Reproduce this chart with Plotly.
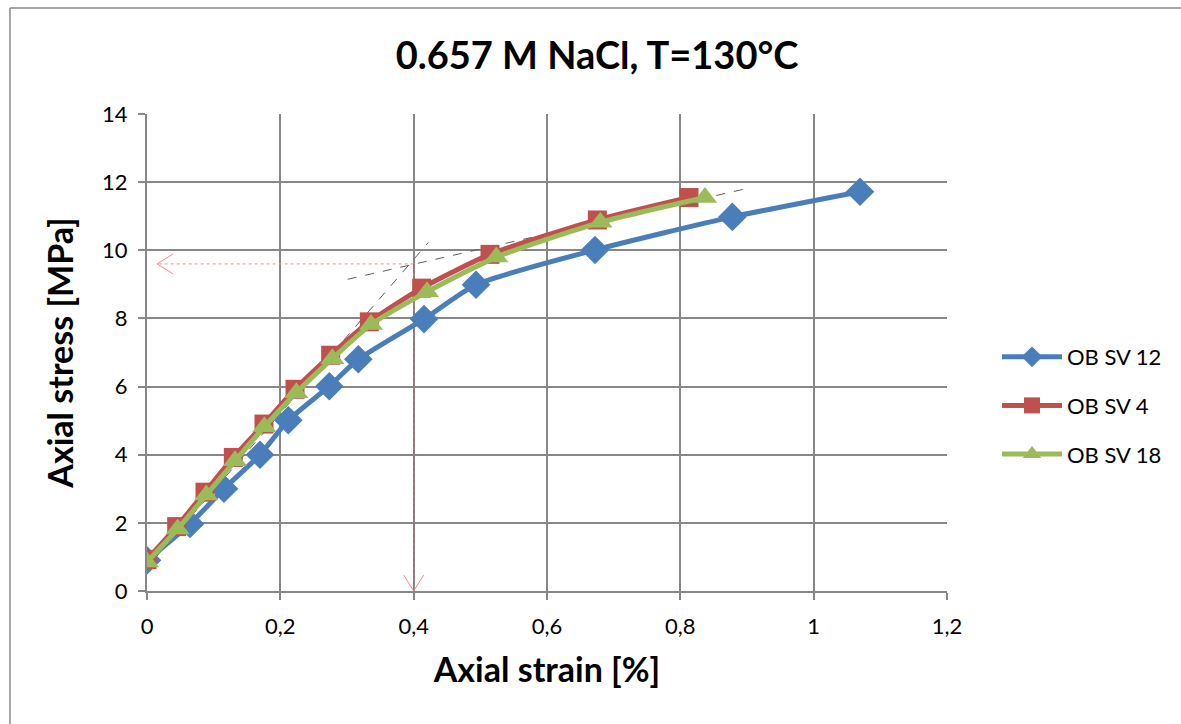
import plotly.graph_objects as go

# ---- data ----
sv12_strain = [0.0, 0.0645, 0.1155, 0.1695, 0.212, 0.2735, 0.317, 0.4155, 0.4935, 0.672, 0.878, 1.0695]
sv12_stress = [0.9, 1.97, 3.0, 4.0, 5.01, 6.01, 6.8, 7.98, 8.99, 10.01, 10.98, 11.72]

sv4_strain = [0.0, 0.0445, 0.087, 0.1295, 0.1755, 0.222, 0.2755, 0.3335, 0.412, 0.5145, 0.6755, 0.813]
sv4_stress = [0.92, 1.89, 2.9, 3.92, 4.9, 5.92, 6.92, 7.9, 8.89, 9.88, 10.89, 11.55]

sv18_strain = [0.0, 0.046, 0.089, 0.132, 0.176, 0.224, 0.278, 0.336, 0.42, 0.524, 0.68, 0.837]
sv18_stress = [0.85, 1.82, 2.82, 3.82, 4.82, 5.82, 6.82, 7.82, 8.78, 9.8, 10.82, 11.55]

tangent1_x = [-0.023, 0.422]
tangent1_y = [0.17, 10.23]
tangent2_x = [0.301, 0.9035]
tangent2_y = [9.15, 11.83]

yield_strain = 0.4
yield_stress = 9.6
arrow_left_end = 0.015

x_ticks = [0, 0.2, 0.4, 0.6, 0.8, 1.0, 1.2]
x_tick_labels = ["0", "0,2", "0,4", "0,6", "0,8", "1", "1,2"]
y_ticks = [0, 2, 4, 6, 8, 10, 12, 14]

FONT = "Lato, 'Open Sans', 'DejaVu Sans', sans-serif"

fig = go.Figure()

# helper lines (behind)
fig.add_trace(go.Scatter(x=tangent1_x, y=tangent1_y, mode="lines",
                         line=dict(color="#5e5e5e", width=1, dash="dash"),
                         showlegend=False, hoverinfo="skip"))
fig.add_trace(go.Scatter(x=tangent2_x, y=tangent2_y, mode="lines",
                         line=dict(color="#5e5e5e", width=1, dash="dash"),
                         showlegend=False, hoverinfo="skip"))
# horizontal arrow to the y axis
fig.add_trace(go.Scatter(x=[yield_strain, arrow_left_end], y=[yield_stress, yield_stress], mode="lines",
                         line=dict(color="#ff8a8a", width=1, dash="dot"),
                         showlegend=False, hoverinfo="skip"))
ahx, ahy = 0.024, 0.29
fig.add_trace(go.Scatter(x=[arrow_left_end + ahx, arrow_left_end, arrow_left_end + ahx],
                         y=[yield_stress + ahy, yield_stress, yield_stress - ahy], mode="lines",
                         line=dict(color="#ff8a8a", width=1),
                         showlegend=False, hoverinfo="skip"))
# vertical arrow to the x axis
fig.add_trace(go.Scatter(x=[yield_strain, yield_strain], y=[yield_stress, 0], mode="lines",
                         line=dict(color="#e04a4a", width=1, dash="dot"),
                         showlegend=False, hoverinfo="skip"))
avx, avy = 0.015, 0.47
fig.add_trace(go.Scatter(x=[yield_strain - avx, yield_strain, yield_strain + avx],
                         y=[avy, 0, avy], mode="lines",
                         line=dict(color="#ff8a8a", width=1),
                         showlegend=False, hoverinfo="skip"))

# data series
fig.add_trace(go.Scatter(x=sv12_strain, y=sv12_stress, name="OB SV 12", mode="lines+markers",
                         line=dict(color="#4a7ebb", width=5, shape="spline", smoothing=0.6),
                         marker=dict(symbol="diamond", size=22, color="#4a7ebb"),
                         legendgroup="a"))
fig.add_trace(go.Scatter(x=sv4_strain, y=sv4_stress, name="OB SV 4", mode="lines+markers",
                         line=dict(color="#c0504d", width=5, shape="spline", smoothing=0.6),
                         marker=dict(symbol="square", size=19, color="#c0504d"),
                         legendgroup="b"))
fig.add_trace(go.Scatter(x=sv18_strain, y=sv18_stress, name="OB SV 18", mode="lines+markers",
                         line=dict(color="#9bbb59", width=5, shape="spline", smoothing=0.6),
                         marker=dict(symbol="triangle-up", size=21, color="#9bbb59"),
                         legendgroup="c"))

L, R, T, B = 147, 234, 114, 133
W, H = 1181, 724
pw, ph = W - L - R, H - T - B

def px(xp):
    return (xp - L) / pw

def py(yp):
    return (H - B - yp) / ph

fig.update_layout(
    width=W, height=H,
    margin=dict(l=L, r=R, t=T, b=B, autoexpand=False),
    paper_bgcolor="white", plot_bgcolor="white",
    font=dict(family=FONT, color="black", size=22),
    title=dict(text="<b>0.657 M NaCl, T=130°C</b>", x=597 / W, xanchor="center",
               y=1 - 56 / H, yanchor="middle", font=dict(size=38, family=FONT)),
    legend=dict(x=px(997), y=py(336), xanchor="left", yanchor="top",
                font=dict(size=22, family=FONT), tracegroupgap=17,
                bgcolor="rgba(0,0,0,0)", itemwidth=60),
    xaxis=dict(range=[0, 1.2], tickvals=x_ticks, ticktext=x_tick_labels,
               showgrid=True, gridcolor="#878787", gridwidth=2,
               zeroline=False, showline=True, linecolor="#878787", linewidth=2,
               ticks="outside", ticklen=7, tickcolor="#878787", tickwidth=2,
               tickfont=dict(size=22), ticklabelstandoff=8, automargin=False,
               title=dict(text="<b>Axial strain [%]</b>", font=dict(size=34), standoff=20)),
    yaxis=dict(range=[0, 14], tickvals=y_ticks,
               showgrid=True, gridcolor="#878787", gridwidth=2,
               zeroline=False, showline=True, linecolor="#878787", linewidth=2,
               ticks="outside", ticklen=7, tickcolor="#878787", tickwidth=2,
               tickfont=dict(size=22), ticklabelstandoff=6, automargin=False,
               title=dict(text="<b>Axial stress [MPa]</b>", font=dict(size=34), standoff=18)),
    showlegend=True,
)

# outer chart border (only left and top edges are visible in the frame)
fig.add_shape(type="line", xref="paper", yref="paper",
              x0=px(10), y0=py(724), x1=px(10), y1=py(8),
              line=dict(color="#888888", width=1.5), layer="below")
fig.add_shape(type="line", xref="paper", yref="paper",
              x0=px(10), y0=py(8), x1=px(1181), y1=py(8),
              line=dict(color="#888888", width=1.5), layer="below")

fig.write_html("out.html", config=dict(displayModeBar=False),
               post_script="document.body.style.margin='0';document.body.style.overflow='hidden';")
